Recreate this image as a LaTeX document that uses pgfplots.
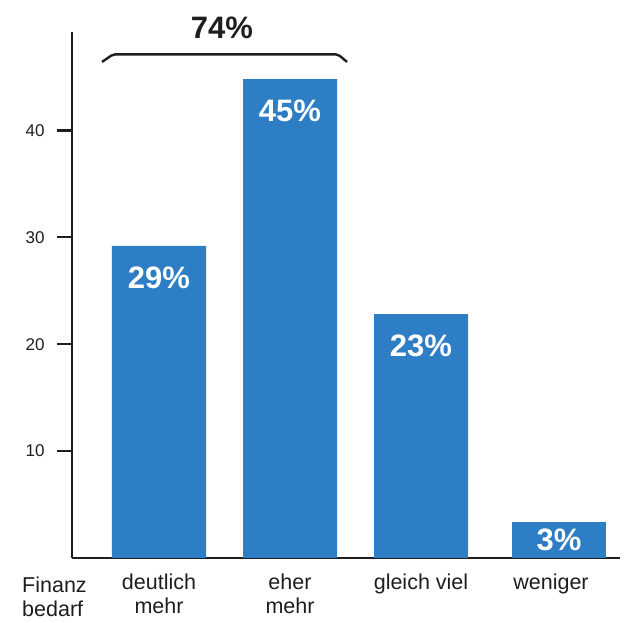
\documentclass[border=0pt]{standalone}
\usepackage{fontspec}
\setmainfont{Liberation Sans}
\usepackage{pgfplots}
\pgfplotsset{compat=1.18}
\definecolor{barblue}{HTML}{2E7EC6}
\definecolor{txt}{HTML}{1E1E1E}
\begin{document}
\begin{tikzpicture}
\useasboundingbox (-72pt,-65pt) rectangle (554pt,558pt);
\begin{axis}[
  scale only axis, width=548pt, height=526pt,
  xmin=72, xmax=620, ymin=0, ymax=49.2,
  axis x line*=bottom, axis y line*=left,
  axis line style={-, line width=2.4pt, color=txt},
  ytick={10,20,30,40},
  ytick align=outside, ytick pos=left,
  major tick length=15pt,
  ytick style={line width=2.4pt, color=txt},
  xtick={159,290,421,551},
  xticklabels={{deutlich\\mehr},{eher\\mehr},{gleich viel},{weniger}},
  xtick style={draw=none},
  x tick label style={align=center, font=\fontsize{21.5}{24}\selectfont, text=txt, anchor=north, yshift=-12pt},
  y tick label style={font=\fontsize{17}{19}\selectfont, text=txt, xshift=-9pt},
  /pgf/number format/assume math mode=true,
  clip=false,
]
\addplot[ybar, bar shift=0pt, bar width=94, fill=barblue, draw=none,
  point meta=explicit symbolic,
  nodes near coords,
  every node near coord/.style={anchor=center, yshift=-32pt, text=white, font=\fontsize{31}{34}\selectfont\bfseries}]
  coordinates {(159,29.2) [29\%] (290,44.8) [45\%] (421,22.8) [23\%]};
\addplot[ybar, bar shift=0pt, bar width=94, fill=barblue, draw=none,
  point meta=explicit symbolic,
  nodes near coords,
  every node near coord/.style={anchor=center, yshift=-18pt, text=white, font=\fontsize{31}{34}\selectfont\bfseries}]
  coordinates {(559,3.4) [3\%]};
\node[anchor=center, text=txt, font=\fontsize{31}{34}\selectfont\bfseries] at (axis cs:222,49.2) [yshift=4pt] {74\%};
\draw[line width=2.4pt, color=txt, rounded corners=2pt] (axis cs:102,46.4) -- (axis cs:113,47.1) -- (axis cs:338,47.1) -- (axis cs:347,46.4);
\node[anchor=north west, align=left, text=txt, font=\fontsize{21.5}{24}\selectfont, inner sep=0pt] at (axis cs:22,0) [yshift=-19pt] {Finanz\\bedarf};
\end{axis}
\end{tikzpicture}
\end{document}
